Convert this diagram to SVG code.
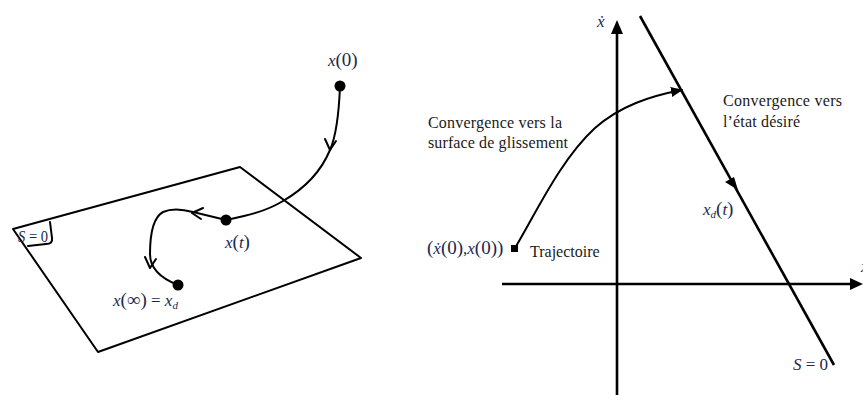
<svg xmlns="http://www.w3.org/2000/svg" width="863" height="401" viewBox="0 0 863 401">
<style>
.ln{fill:none;stroke:#000;stroke-width:2;stroke-linecap:round;stroke-linejoin:round}
.ax{fill:none;stroke:#000;stroke-width:2.6}
.tx{font-family:"Liberation Serif","Times New Roman",serif;font-size:16px;fill:#1a1a1a}
.m{font-family:"Liberation Serif","Times New Roman",serif;font-size:17px;font-style:italic;fill:#1c2a4a}
.p{font-style:normal;font-size:19px}
.q{font-style:normal}
.dot{fill:#000}
</style>
<defs>
<marker id="tri" viewBox="0 0 12 10" refX="11" refY="5" markerWidth="12" markerHeight="10" markerUnits="userSpaceOnUse" orient="auto">
<path d="M0,0 L12,5 L0,10 Z" fill="#000"/>
</marker>
<path id="chev" d="M-5,-11 L0,0 L6,-9" fill="none" stroke="#000" stroke-width="2" stroke-linecap="round" stroke-linejoin="round"/>
</defs>

<g id="left-plane">
<path class="ln" d="M13,229 L240,167 L361,258 L98,352 Z"/>
<path class="ln" d="M50,222 L52,238 Q53,244 46,244 L28,246"/>
<text class="m" x="18" y="242" font-size="16" textLength="30" lengthAdjust="spacingAndGlyphs">S<tspan class="q"> = 0</tspan></text>
</g>

<g id="connectors">
<path class="ln" d="M340,86 C339,112 337,134 330,150 C320,174 302,190 283,201 C265,212 245,216 226,220"/>
<use href="#chev" transform="translate(330,150)"/>
<path class="ln" d="M226,220 L193,212 C182,209 172,208 163,212 C152,218 150,236 150,254 C150,268 160,278 178,285"/>
<use href="#chev" transform="translate(192,213) rotate(90)"/>
<use href="#chev" transform="translate(150,268)"/>
<path class="ln" d="M515,248 C535,215 560,160 595,128 C620,106 650,96 682,90" marker-end="url(#tri)"/>
<path class="ax" d="M640,16 L834,365"/>
<path d="M738,190 L725,182 L734,177 Z" fill="#000"/>
</g>

<g id="node-x0">
<circle class="dot" cx="340" cy="86" r="5.5"/>
<text class="m" x="328" y="66">x<tspan class="p">(0)</tspan></text>
</g>
<g id="node-xt">
<circle class="dot" cx="226" cy="220" r="5.5"/>
<text class="m" x="225" y="248">x<tspan class="p">(</tspan>t<tspan class="p">)</tspan></text>
</g>
<g id="node-xinf">
<circle class="dot" cx="178" cy="285" r="5.5"/>
<text class="m" x="113" y="306">x<tspan class="p">(∞)</tspan><tspan class="q"> = </tspan>x<tspan font-size="11" dy="3">d</tspan></text>
</g>

<g id="axes">
<path class="ax" d="M617,395 L617,32"/>
<path d="M617,20 L611,34 L623,34 Z" fill="#000"/>
<path class="ax" d="M502,284 L851,284"/>
<path d="M863,284 L850,278 L850,290 Z" fill="#000"/>
<text class="m" x="597" y="27" font-size="19">ẋ</text>
<text class="m" x="861" y="272">x</text>
</g>

<g id="node-start">
<rect x="511" y="245" width="7" height="7" fill="#000"/>
<text class="m" x="427" y="254"><tspan class="p">(</tspan>ẋ<tspan class="p">(0)</tspan><tspan class="q">,</tspan>x<tspan class="p">(0))</tspan></text>
<text class="tx" x="530" y="257">Trajectoire</text>
</g>

<g id="labels">
<text class="tx" x="428" y="128" textLength="134">Convergence vers la</text>
<text class="tx" x="428" y="148" textLength="140">surface de glissement</text>
<text class="tx" x="723" y="106" textLength="119">Convergence vers</text>
<text class="tx" x="723" y="127" textLength="77">l’état désiré</text>
<text class="m" x="703" y="215">x<tspan font-size="11" dy="3">d</tspan><tspan class="p" dy="-3">(</tspan>t<tspan class="p">)</tspan></text>
<text class="m" x="793" y="370">S<tspan class="q"> = 0</tspan></text>
</g>
</svg>
